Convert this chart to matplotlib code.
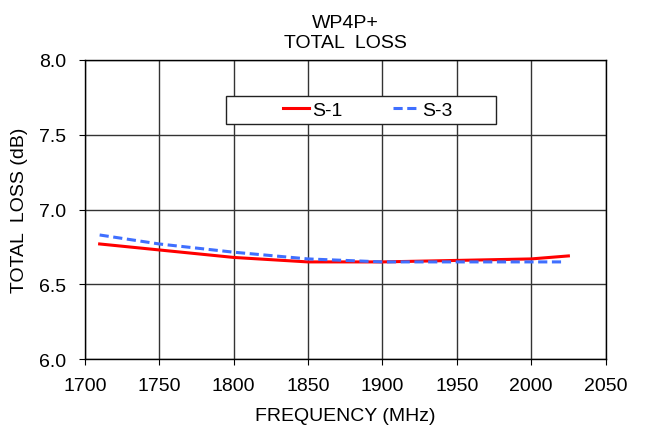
import matplotlib.pyplot as plt
from matplotlib.patches import Rectangle

plt.rcParams['font.family'] = ['Liberation Sans', 'DejaVu Sans']

# frequency (MHz) and total loss (dB)
freq_s1 = [1710, 1750, 1800, 1850, 1900, 1950, 2000, 2025]
loss_s1 = [6.77, 6.73, 6.68, 6.65, 6.65, 6.66, 6.67, 6.69]

freq_s3 = [1710, 1750, 1800, 1850, 1900, 1950, 2000, 2021]
loss_s3 = [6.83, 6.77, 6.715, 6.67, 6.65, 6.65, 6.65, 6.65]

x_ticks = [1700, 1750, 1800, 1850, 1900, 1950, 2000, 2050]
y_ticks = [6.0, 6.5, 7.0, 7.5, 8.0]

FS = 14

fig = plt.figure(figsize=(6.47, 4.35), dpi=100)
ax = fig.add_axes([0.131, 0.172, 0.805, 0.688])

ax.plot(freq_s1, loss_s1, color='#FF0000', lw=2.2, label='S-1')
ax.plot(freq_s3, loss_s3, color='#3F6FFF', lw=2.2, ls=(0, (3, 1.5)), label='S-3')

ax.set_xlim(1700, 2050)
ax.set_ylim(6.0, 8.0)
ax.set_xticks(x_ticks)
ax.set_yticks(y_ticks)
ax.set_yticklabels([f"{v:.1f}" for v in y_ticks])
ax.tick_params(labelsize=FS, length=4.5, color='black', direction='out')
ax.tick_params(axis='y', pad=9)
ax.tick_params(axis='x', pad=8)
ax.grid(True, color='#333333', lw=1)
ax.set_axisbelow(True)
for s in ax.spines.values():
    s.set_color('black')
    s.set_linewidth(1)

ax.set_xlabel("FREQUENCY (MHz)", fontsize=FS, labelpad=10)
ax.set_ylabel("TOTAL  LOSS (dB)", fontsize=FS, labelpad=8)
ax.set_title("WP4P+\nTOTAL  LOSS", fontsize=FS, pad=9, linespacing=1.3)

# Excel-style legend: wide white box with entries inside
ax.add_patch(Rectangle((0.271, 0.786), 0.519, 0.094, transform=ax.transAxes,
                       facecolor='white', edgecolor='#222222', lw=1, zorder=4))
leg = ax.legend(loc='center left', bbox_to_anchor=(0.380, 0.833), ncol=2,
                fontsize=FS, frameon=False, handlelength=1.35, handletextpad=0.15,
                columnspacing=2.6, borderpad=0, borderaxespad=0)
leg.set_zorder(5)
for line in leg.get_lines():
    line.set_linewidth(2.2)

fig.savefig("out.png", dpi=100)
